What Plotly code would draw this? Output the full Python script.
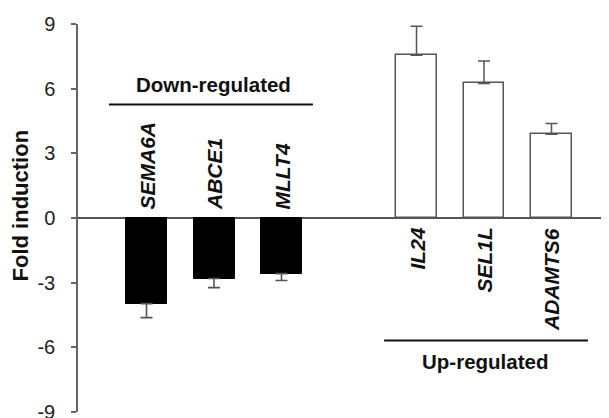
import plotly.graph_objects as go

# ---- data ----
down_genes = ["SEMA6A", "ABCE1", "MLLT4"]
down_values = [-3.97, -2.81, -2.58]
down_errors = [0.65, 0.42, 0.32]

up_genes = ["IL24", "SEL1L", "ADAMTS6"]
up_values = [7.55, 6.24, 3.88]
up_errors = [1.35, 1.04, 0.50]

y_tick_vals = [9, 6, 3, 0, -3, -6, -9]
y_tick_text = ["9", "6", "3", "0", "-3", "-6", "-9"]

y_title = "Fold induction"
down_group_label = "Down-regulated"
up_group_label = "Up-regulated"

# ---- layout helpers ----
down_x = list(range(len(down_genes)))
up_x = [len(down_genes) + 1 + i for i in range(len(up_genes))]

FONT = "Liberation Sans, Arial, sans-serif"
BAR_W = 0.607
EDGE = "#555555"

fig = go.Figure()

fig.add_trace(go.Bar(
    x=down_x, y=down_values, width=BAR_W,
    marker=dict(color="#000000", line=dict(color="#000000", width=1)),
    error_y=dict(type="data", symmetric=False,
                 array=[0] * len(down_errors), arrayminus=down_errors,
                 color=EDGE, thickness=1.6, width=6),
    showlegend=False, hoverinfo="skip",
))

fig.add_trace(go.Bar(
    x=up_x, y=up_values, width=BAR_W,
    marker=dict(color="#ffffff", line=dict(color=EDGE, width=1.5)),
    error_y=dict(type="data", symmetric=False,
                 array=up_errors, arrayminus=[0] * len(up_errors),
                 color=EDGE, thickness=1.5, width=6),
    showlegend=False, hoverinfo="skip",
))

annotations = []
for xi, g in zip(down_x, down_genes):
    annotations.append(dict(
        x=xi, y=0, xref="x", yref="y", text=f"<b><i>{g}</i></b>",
        textangle=-90, xanchor="center", yanchor="bottom", yshift=6,
        showarrow=False, font=dict(family=FONT, size=21, color="#111111"),
    ))
for xi, g in zip(up_x, up_genes):
    annotations.append(dict(
        x=xi, y=0, xref="x", yref="y", text=f"<b><i>{g}</i></b>",
        textangle=-90, xanchor="center", yanchor="top", yshift=-8,
        showarrow=False, font=dict(family=FONT, size=21, color="#111111"),
    ))

# group labels
annotations.append(dict(
    x=(down_x[0] + down_x[-1]) / 2 - 0.01, y=6.18, xref="x", yref="y",
    text=f"<b>{down_group_label}</b>", showarrow=False,
    xanchor="center", yanchor="middle",
    font=dict(family=FONT, size=20.5, color="#111111"),
))
annotations.append(dict(
    x=(up_x[0] + up_x[-1]) / 2 + 0.02, y=-6.65, xref="x", yref="y",
    text=f"<b>{up_group_label}</b>", showarrow=False,
    xanchor="center", yanchor="middle",
    font=dict(family=FONT, size=20.5, color="#111111"),
))

# y title
annotations.append(dict(
    x=-0.109, y=0.533, xref="paper", yref="paper",
    text=f"<b>{y_title}</b>", textangle=-90, showarrow=False,
    xanchor="center", yanchor="middle",
    font=dict(family=FONT, size=22, color="#111111"),
))

shapes = [
    dict(type="line", xref="x", yref="y",
         x0=down_x[0] - 0.557, x1=down_x[-1] + 0.465, y0=5.26, y1=5.26,
         line=dict(color="#111111", width=2)),
    dict(type="line", xref="x", yref="y",
         x0=up_x[0] - 0.48, x1=up_x[-1] + 0.54, y0=-5.68, y1=-5.68,
         line=dict(color="#111111", width=2)),
]

# page body has an 8px default margin, so the figure is sized to fit inside it
fig.update_layout(
    width=601, height=410,
    margin=dict(l=70, r=1, t=16, b=6, pad=0, autoexpand=False),
    paper_bgcolor="#ffffff", plot_bgcolor="#ffffff",
    annotations=annotations, shapes=shapes,
    bargap=0,
    xaxis=dict(range=[-1.015, 6.837], visible=False, fixedrange=True),
    yaxis=dict(
        range=[-9, 9], tickvals=y_tick_vals, ticktext=y_tick_text,
        showgrid=False, showline=True, linecolor="#666666", linewidth=1.5,
        ticks="outside", ticklen=5, tickcolor="#666666", tickwidth=1.5,
        zeroline=True, zerolinecolor="#555555", zerolinewidth=1.5,
        tickfont=dict(family=FONT, size=20, color="#222222"),
        ticklabelstandoff=12, ticklabeloverflow="allow",
        automargin=False, fixedrange=True,
    ),
)

fig.write_html("out.html")
